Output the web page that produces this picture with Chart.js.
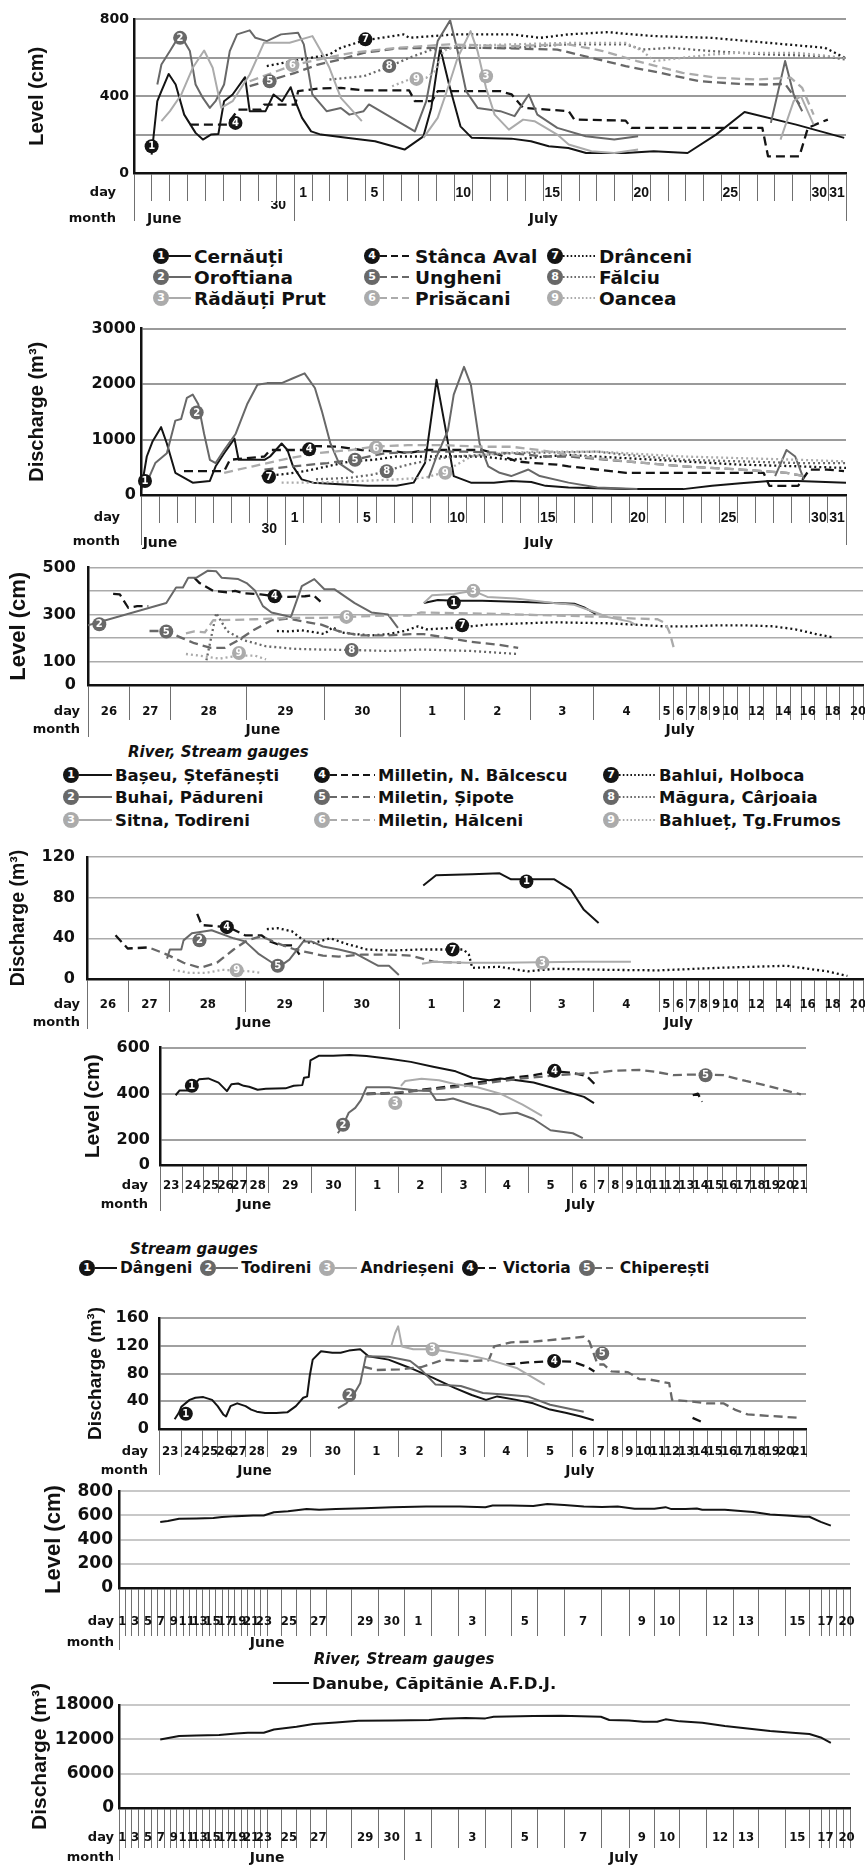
<!DOCTYPE html>
<html><head><meta charset="utf-8">
<script src="https://cdn.jsdelivr.net/npm/chart.js@4.4.1/dist/chart.umd.min.js"></script>
<style>
html,body{margin:0;padding:0;background:#fff;}
body{width:865px;height:1872px;position:relative;overflow:hidden;}
.lg{position:absolute;display:flex;align-items:center;white-space:nowrap;color:#111;font-weight:bold;}
.ttl{position:absolute;white-space:nowrap;color:#111;font-weight:bold;font-style:italic;}
</style></head><body>
<script>
// ======================= DATA =======================
const MONTHS = ['June','July'];
const ROW_TITLES = ['day','month'];
// Prut gauges (charts 1-2)
const PRUT_NAMES = ['Cernăuți','Oroftiana','Rădăuți Prut','Stânca Aval','Ungheni','Prisăcani','Drânceni','Fălciu','Oancea'];
// Chart 1: level (cm); t = days since 22 June 00:00
const PL_CERNAUTI=[[0.99,96],[1.31,374],[1.54,426],[1.95,516],[2.34,461],[2.82,304],[3.46,209],[3.87,174],[4.32,200],[4.74,203],[5.06,374],[5.54,409],[6.24,499],[6.5,322],[7.39,322],[7.84,409],[8.32,374],[8.8,447],[9.06,374],[9.44,287],[9.95,217],[10.5,200],[11.94,183],[13.54,165],[15.2,122],[16.26,191],[16.7,339],[17.2,652],[17.7,461],[18.34,243],[18.98,183],[21.2,179],[22.3,165],[23.3,139],[24.4,130],[25.4,104],[27.6,104],[29.2,113],[31.1,104],[32.7,200],[34.3,318],[37.2,252],[39.9,183]];
const PL_OROFTIANA=[[1.31,461],[1.54,565],[2.02,635],[2.59,722],[3.14,635],[3.46,461],[3.87,391],[4.26,339],[4.58,374],[5.06,461],[5.38,635],[5.79,722],[6.5,743],[6.82,704],[7.46,687],[8.26,722],[9.22,730],[9.54,670],[10.02,409],[10.82,322],[11.62,339],[12.1,304],[12.9,322],[13.2,357],[15.78,217],[16.42,374],[17.06,687],[17.76,795],[18.18,635],[18.66,426],[19.3,339],[20.58,322],[21.38,296],[22.18,409],[22.66,304],[23.78,235],[25.38,191],[26.98,174],[28.32,191],null,[35.78,261],[36.58,583],[37.06,409],[37.54,322]];
const PL_RADAUTI=[[1.54,270],[2.02,322],[2.66,409],[3.3,548],[3.94,638],[4.42,548],[4.9,339],[5.54,374],[6.5,513],[7.3,678],[7.78,678],[8.74,678],[10.02,713],[10.5,635],[10.98,548],[11.62,391],[12.8,270],null,[16.26,183],[17.06,287],[17.7,461],[18.18,600],[18.91,739],[19.3,635],[19.78,443],[20.26,304],[21.06,226],[21.86,278],[22.5,270],[23.78,200],[24.42,148],[25.7,113],[26.98,104],[28.32,122],null,[36.32,174],[37.06,374],[37.47,400],[38.18,252]];
const PL_STANCA=[[3.14,252],[5.22,252],[5.86,330],[7.14,330],[7.3,356],[9.06,356],[9.22,426],[10.34,440],[11.62,443],[12.9,430],[15.46,430],[15.78,374],[16.74,374],[17.06,426],[20.58,426],[21.22,409],[21.86,339],[24.42,322],[24.74,278],[27.62,273],[27.94,235],[35.3,235],[35.62,87],[37.38,87],[37.86,235],[38.5,261],[38.98,278]];
const PL_UNGHENI=[[6.5,452],[7.46,478],[9.06,522],[10.34,565],[11.62,591],[12.9,626],[14.82,649],[17.38,652],[19.62,652],[23.78,643],[25.7,600],[27.62,557],[29.54,522],[31.78,478],[34.0,464],[35.46,461],[36.58,464],[37.54,339]];
const PL_PRISACANI=[[6.5,478],[7.78,522],[8.9,560],[10.34,591],[12.26,626],[14.82,652],[17.7,670],[21.22,661],[24.42,670],[26.34,635],[28.26,583],[30.82,522],[32.74,496],[34.98,487],[36.9,496],[37.54,443],[38.18,304]];
const PL_DRANCENI=[[7.46,557],[9.38,591],[10.98,617],[11.62,652],[12.9,690],[15.14,722],[15.46,704],[18.02,722],[21.22,722],[22.82,704],[24.42,722],[26.66,734],[27.62,725],[29.22,713],[32.42,704],[35.62,678],[38.82,652],[39.94,600]];
const PL_FALCIU=[[10.98,487],[12.9,504],[14.18,548],[15.46,600],[16.74,643],[18.02,652],[21.22,652],[24.42,670],[27.62,670],[28.58,643],[30.18,652],[32.42,635],[35.62,617],[38.82,609],[39.94,591]];
const PL_OANCEA=[[14.5,452],[15.46,487],[15.9,490],[16.42,496],[16.9,530],[17.38,635],[18.02,661],[21.22,670],[24.42,678],[27.62,678],[28.58,635],[29.22,583],[30.82,600],[32.42,617],[34.02,626],[37.22,626],[39.94,600]];
const PL_MARKS=[[1,0.99,139],[2,2.59,704],[3,19.78,504],[4,5.7,261],[5,7.62,478],[6,8.9,562],[7,13.0,696],[8,14.34,557],[9,15.87,490]];
// Chart 2: discharge; t = days since 23 June 00:00
const PQ_CERNAUTI=[[0,76],[0.32,694],[0.63,958],[1.11,1223],[1.43,929],[1.9,400],[2.86,223],[3.81,253],[4.13,517],[4.6,753],[5.17,1017],[5.4,635],[6.83,635],[7.14,694],[7.78,929],[8.1,811],[8.41,517],[8.89,282],[9.52,223],[10.95,194],[12.54,165],[14.13,165],[15.08,223],[15.71,576],[16.35,2076],[16.83,1223],[17.3,341],[18.25,223],[19.52,223],[20.48,253],[21.59,235],[22.38,165],[23.65,135],[26.83,106],[30.0,106],[31.59,165],[33.17,212],[34.76,253],[36.35,253],[39.0,223]];
const PQ_OROFTIANA=[[0.32,223],[0.79,576],[1.43,753],[1.9,1341],[2.22,1370],[2.54,1752],[2.86,1811],[3.17,1635],[3.49,1105],[3.81,635],[4.13,576],[4.6,811],[5.24,1105],[5.87,1635],[6.44,1988],[6.98,2017],[7.78,2017],[8.41,2105],[9.05,2193],[9.62,1929],[10.0,1517],[10.48,929],[10.95,576],[11.75,400],null,[15.9,300],[16.35,694],[16.98,1164],[17.3,1811],[17.87,2311],[18.25,1987],[18.73,929],[19.21,517],[19.84,400],[20.48,341],[21.43,459],[22.06,341],[23.65,223],[25.24,135],[27.46,106],null,[35.08,341],[35.71,811],[36.19,694],[36.67,282]];
const PQ_STANCA=[[2.38,429],[4.6,429],[4.92,635],[6.83,694],[7.14,811],[9.21,811],[9.68,882],[10.95,870],[12.22,811],[14.13,782],[14.76,753],[15.71,811],[18.89,811],[19.84,723],[20.79,606],[21.75,576],[23.02,547],[23.65,517],[26.83,400],[34.44,400],[34.76,165],[36.35,165],[36.98,459],[37.94,459],[38.89,429]];
const PQ_UNGHENI=[[6.83,459],[8.41,517],[10.32,576],[11.75,635],[13.49,753],[15.71,782],[17.94,782],[20.48,753],[22.38,694],[23.65,694],[26.83,606],[30.0,517],[33.17,459],[35.71,400],[36.67,341]];
const PQ_PRISACANI=[[4.6,400],[6.19,517],[7.78,635],[9.68,753],[11.59,811],[12.86,870],[14.76,900],[16.67,900],[18.89,870],[20.48,870],[22.06,811],[23.65,723],[25.24,664],[26.83,606],[30.0,517],[33.17,459],[35.71,400],[36.67,341]];
const PQ_DRANCENI=[[6.67,341],[7.78,370],[9.05,429],[10.32,517],[11.59,606],[12.86,635],[14.13,694],[16.03,694],[18.89,694],[20.48,635],[22.38,694],[23.65,723],[26.83,664],[30.0,606],[33.17,547],[36.35,517],[39.0,488]];
const PQ_FALCIU=[[9.68,282],[11.59,312],[12.86,370],[13.81,459],[14.76,547],[16.03,635],[17.3,694],[20.48,753],[25.24,782],[26.83,723],[30.0,635],[33.17,606],[36.35,576],[39.0,576]];
const PQ_OANCEA=[[7.78,223],[9.68,223],[12.22,253],[14.13,282],[15.71,312],[16.67,400],[17.3,517],[18.25,694],[19.84,753],[22.06,782],[25.24,782],[26.83,753],[30.0,694],[33.17,664],[36.35,635],[39.0,606]];
const PQ_MARKS=[[1,0.22,253],[2,3.08,1488],[4,9.3,823],[5,11.84,635],[6,13.0,858],[7,7.08,329],[8,13.59,429],[9,16.83,400]];

// Small rivers (charts 3-4); t = day slot index from 26 June
const RIV_NAMES=['Bașeu, Ștefănești','Buhai, Pădureni','Sitna, Todireni','Milletin, N. Bălcescu','Miletin, Șipote','Miletin, Hălceni','Bahlui, Holboca','Măgura, Cârjoaia','Bahlueț, Tg.Frumos'];
const RL_BASEU=[[5.37,349],[5.59,362],[5.84,359],[6.27,359],[6.77,355],[7.36,349],[7.69,346],[7.86,329],[8.03,303]];
const RL_BUHAI=[[0,254],[1.89,349],[2.07,415],[2.16,415],[2.23,457],[2.34,457],[2.49,487],[2.6,484],[2.67,457],[2.89,451],[3.0,434],[3.11,401],[3.21,336],[3.32,309],[3.57,290],[3.71,421],[3.87,451],[4.0,408],[4.13,408],[4.4,349],[4.62,309],[4.84,300],[4.97,243]];
const RL_SITNA=[[5.37,349],[5.5,382],[5.84,388],[6.14,401],[6.35,375],[6.77,368],[7.36,349],[7.69,342],[8.03,309],[8.21,290],[8.55,270],[8.63,257]];
const RL_BALCESCU=[[0.6,388],[0.76,386],[0.96,329],[1.18,336],[1.45,336],null,[2.31,457],[2.38,434],[2.56,401],[2.74,395],[2.85,401],[2.96,391],[3.18,386],[3.36,378],[3.54,375],[3.75,378],[3.86,382],[3.95,355]];
const RL_SIPOTE=[[1.48,230],[1.89,230],[2.12,204],[2.31,178],[2.53,158],[2.71,158],[2.89,191],[3.07,230],[3.32,276],[3.54,283],[3.79,267],[3.96,257],[4.18,230],[4.47,211],[4.84,211],[5.16,217],[5.37,217],[5.67,204],[6.1,184],[6.52,171],[6.81,158]];
const RL_HALCENI=[[2.2,220],[2.31,228],[2.45,224],[2.56,276],[2.67,276],[3.11,280],[3.61,286],[3.96,286],[4.29,290],[4.84,296],[5.16,296],[5.33,309],[5.67,307],[6.52,303],[7.36,296],[8.21,290],[8.63,283],[8.97,280],[9.42,263],[9.72,224],[10.06,151]];
const RL_HOLBOCA=[[3.39,230],[3.54,228],[3.71,233],[3.89,224],[4.0,217],[4.11,246],[4.22,224],[4.4,217],[4.62,211],[4.84,217],[5.07,230],[5.28,250],[5.41,237],[5.67,241],[5.97,246],[6.35,257],[6.93,263],[7.36,267],[8.21,263],[8.63,257],[9.3,250],[11.42,250],[13.53,254],[15.65,254],[17.77,250],[19.47,237],[21.16,217],[22.43,204]];
const RL_CARJOAIA=[[2.47,105],[2.6,307],[2.74,230],[2.96,191],[3.25,165],[3.61,154],[3.96,151],[4.36,149],[4.84,145],[5.33,151],[6.1,145],[6.81,132]];
const RL_TGFRUMOS=[[2.2,132],[2.45,122],[2.64,112],[2.89,125],[3.11,125],[3.25,109]];
const RL_MARKS=[[1,5.84,351],[2,0.27,259],[3,6.14,401],[4,3.36,378],[5,1.89,228],[6,4.29,290],[7,5.97,254],[8,4.36,149],[9,2.9,136]];
const RQ_BASEU=[[5.37,92],[5.57,102],[6.13,103],[6.54,104],[6.71,98],[7.38,98],[7.64,88],[7.85,68],[8.08,55]];
const RQ_BUHAI=[[1.93,20],[2.0,29],[2.15,29],[2.18,38],[2.29,45],[2.55,48],[2.84,40],[2.99,37],[3.16,25],[3.34,16],[3.41,11],[3.56,19],[3.74,37],[3.84,37],[3.99,32],[4.2,29],[4.42,25],[4.72,13],[4.86,13],[4.99,4]];
const RQ_SITNA=[[5.35,15],[5.53,17],[6.04,16],[6.54,16],[7.8,17],[8.57,17]];
const RQ_BALCESCU=[[0.68,43],[0.97,30],[1.45,31],null,[2.36,64],[2.42,53],[2.77,51],[2.99,43],[3.2,43],[3.31,37],[3.45,33],[3.61,33],[3.69,24]];
const RQ_SIPOTE=[[1.55,30],[1.93,24],[2.18,16],[2.4,11],[2.62,16],[2.84,29],[3.02,38],[3.2,42],[3.41,35],[3.63,29],[3.99,23],[4.2,22],[4.5,24],[4.86,24],[5.18,23],[5.53,17],[5.96,16]];
const RQ_HOLBOCA=[[3.27,49],[3.41,50],[3.59,47],[3.74,38],[3.84,35],[3.99,38],[4.09,40],[4.28,35],[4.57,29],[4.86,28],[5.35,29],[5.78,29],[6.0,29],[6.08,24],[6.13,11],[6.54,12],[6.96,7.5],[7.38,10],[8.23,9],[9.0,8.5],[13.66,11],[18.75,13],[20.0,11],[22.1,7.5],[23.6,3]];
const RQ_TGFRUMOS=[[2.04,9],[2.26,6],[2.47,6],[2.69,9],[3.06,7.5],[3.2,6]];
const RQ_MARKS=[[1,6.94,96],[2,2.39,38],[3,7.19,16],[4,2.75,51],[5,3.41,13],[7,5.83,29],[9,2.88,8.5]];

// Stream gauges (charts 5-6); t = day slot index from 23 June
const STR_NAMES=['Dângeni','Todireni','Andrieșeni','Victoria','Chiperești'];
const SL_DANGENI=[[0.7,393],[0.88,414],[1.26,414],[1.79,462],[2.32,466],[3.0,448],[3.6,411],[3.92,441],[4.4,444],[4.8,434],[5.12,430],[5.5,417],[5.87,421],[6.39,423],[6.58,434],[6.78,437],[6.82,469],[6.93,472],[6.97,545],[7.17,565],[7.49,565],[7.87,568],[8.26,563],[8.78,552],[9.28,538],[9.8,517],[10.32,497],[10.7,469],[11.09,458],[11.35,466],[11.74,458],[12.12,448],[12.5,428],[12.87,407],[13.53,386],[14.0,359]];
const SL_TODIRENI=[[7.6,228],[7.72,262],[7.85,317],[8.0,338],[8.13,372],[8.26,428],[8.78,428],[9.41,414],[9.73,411],[9.87,372],[10.06,372],[10.26,379],[10.7,352],[11.09,331],[11.35,310],[11.74,317],[12.12,290],[12.5,241],[12.75,234],[13.0,228],[13.47,207]];
const SL_ANDRIESENI=[[9.05,434],[9.15,455],[9.53,465],[9.94,458],[10.32,441],[10.82,428],[11.35,400],[11.87,352],[12.31,303]];
const SL_VICTORIA=[[8.26,400],[9.03,403],[9.53,417],[10.32,434],[10.96,452],[11.6,469],[12.13,480],[12.56,497],[13.0,490],[13.66,476],[14.05,441],null,[20.94,393],[21.3,400],[21.6,365]];
const SL_CHIPERESTI=[[8.26,397],[8.78,403],[9.53,414],[10.32,428],[11.09,448],[11.87,466],[12.63,480],[13.26,486],[14.0,490],[15.25,499],[17.2,503],[18.4,494],[19.57,480],[20.75,483],[21.84,483],[23.1,480],[24.67,455],[26.2,434],[28.6,397]];
const SL_MARKS=[[1,1.45,434],[2,7.72,265],[3,8.92,359],[4,12.59,499],[5,21.84,480]];
const SQ_DANGENI=[[0.7,14],[0.88,23],[1.0,32],[1.39,42],[1.66,45],[2.05,46],[2.63,42],[3.0,33],[3.4,21],[3.6,18],[3.92,33],[4.4,37],[5.0,33],[5.25,28],[5.5,25],[5.87,23],[6.19,23],[6.45,24],[6.65,33],[6.82,45],[6.91,47],[6.97,76],[7.04,100],[7.23,112],[7.49,110],[7.68,110],[7.87,113],[8.13,115],[8.32,105],[8.78,100],[9.28,88],[9.8,74],[10.32,59],[10.7,49],[11.03,42],[11.29,47],[11.74,42],[12.12,37],[12.5,28],[12.87,23],[13.4,18],[14.0,12.5]];
const SQ_TODIRENI=[[7.62,30],[7.81,37],[8.0,52],[8.13,66],[8.26,105],[8.78,104],[9.28,98],[9.53,86],[9.87,64],[10.45,62],[10.96,52],[11.61,49],[12.0,47],[12.5,35],[13.53,25]];
const SQ_ANDRIESENI=[[8.84,119],[8.93,138],[9.0,148],[9.09,119],[9.35,115],[9.8,115],[10.58,107],[11.09,100],[11.74,88],[12.38,64]];
const SQ_VICTORIA=[[11.5,93],[12.0,96],[12.56,98],[13.0,97],[13.66,90],[14.05,83],null,[20.94,16],[21.6,10]];
const SQ_CHIPERESTI=[[8.2,90],[8.5,85],[9.03,86],[9.53,89],[10.06,100],[10.58,98],[11.09,99],[11.22,119],[11.61,125],[12.12,126],[12.63,129],[13.53,133],[13.8,126],[14.27,93],[14.7,93],[15.25,83],[16.4,82],[17.2,72],[18.0,71],[19.3,66],[19.5,42],[20.75,40],[21.9,37],[23.1,37],[23.9,28],[24.8,21],[26.2,19],[28.6,16]];
const SQ_MARKS=[[1,1.21,22],[2,7.88,49],[3,9.8,115],[4,12.59,98],[5,14.6,109]];

// Danube (charts 7-8); t = day slot index from 1 June
const DANUBE_NAME='Danube, Căpitănie A.F.D.J.';
const DL_DANUBE=[[6.4,546],[7.58,554],[9.33,573],[12.0,575],[14.64,578],[16.0,586],[18.2,594],[20.83,599],[22.47,599],[23.48,626],[24.44,634],[25.0,642],[25.72,652],[26.54,647],[27.38,652],[28.46,660],[29.52,668],[30.79,673],[32.04,673],[32.98,668],[33.26,681],[33.96,681],[34.83,678],[35.36,694],[36.0,686],[36.52,673],[37.0,670],[37.58,673],[38.22,655],[39.0,655],[39.44,668],[39.67,652],[40.21,652],[40.63,657],[40.83,647],[41.68,647],[42.78,628],[43.43,607],[44.07,599],[44.77,589],[45.0,589],[45.91,546],[47.23,515]];
const DQ_DANUBE=[[6.4,11980],[9.33,12565],[12.0,12680],[15.55,12740],[18.2,13030],[20.0,13150],[22.47,13150],[23.48,13730],[25.0,14200],[26.18,14670],[27.38,14960],[28.25,15250],[29.52,15310],[30.9,15370],[31.42,15600],[32.25,15720],[32.98,15660],[33.3,15950],[34.83,16070],[35.89,16130],[36.97,15950],[37.27,15370],[38.0,15310],[38.56,15080],[39.11,15080],[39.44,15490],[40.0,15140],[40.83,14900],[41.68,14320],[42.56,13910],[43.43,13440],[44.3,13150],[45.0,12920],[45.91,12330],[47.23,11400]];

// Axis day numbers per slot and which are labelled
const range=(a,b)=>{const r=[];for(let i=a;i<=b;i++)r.push(i);return r;};
const AX_PRUT1_DAYS=[...range(22,30),...range(1,31)];
const AX_PRUT2_DAYS=[...range(23,30),...range(1,31)];
const AX_PRUT_SHOWN=[1,5,10,15,20,25,30,31];
const AX_PRUT_LOW='30';
const AX_RIV_DAYS=[...range(26,30),...range(1,20)];
const AX_RIV_HIDE=[11,13,15,17,19];
const AX_STR_DAYS=[...range(23,30),...range(1,21)];
const AX_DAN_DAYS=[...range(1,30),...range(1,20)];
const AX_DAN_SHOWN_JUNE=[1,3,5,7,9,11,13,15,17,19,21,23,25,27,29,30];
const AX_DAN_SHOWN_JULY=[1,3,5,7,9,10,12,13,15,17,20];
const Y1=[[0,'0'],[200,''],[400,'400'],[600,''],[800,'800']];
const Y2=[[0,'0'],[1000,'1000'],[2000,'2000'],[3000,'3000']];
const Y3=[[0,'0'],[100,'100'],[200,''],[300,'300'],[400,''],[500,'500']];
const Y4=[[0,'0'],[40,'40'],[80,'80'],[120,'120']];
const Y5=[[90,'0'],[200,'200'],[400,'400'],[600,'600']];
const Y6=[[0,'0'],[40,'40'],[80,'80'],[120,'120'],[160,'160']];
const Y7=[[0,'0'],[200,'200'],[400,'400'],[600,'600'],[800,'800']];
const Y8=[[0,'0'],[6000,'6000'],[12000,'12000'],[18000,'18000']];

// ======================= STYLE / LAYOUT =======================
const FT="'Liberation Sans', Arial, sans-serif";
const FN="'Liberation Sans Narrow', 'Arial Narrow', 'DejaVu Sans Condensed', sans-serif";
const FD="'DejaVu Sans', sans-serif";
const COL={K:'#141414',D:'#686868',L:'#ababab'};
const DASH={s:[],d:[9,5],o:[2,3]};
const STY9=[['K','s'],['D','s'],['L','s'],['K','d'],['D','d'],['L','d'],['K','o'],['D','o'],['L','o']];
const STY5=[['K','s'],['D','s'],['L','s'],['K','d'],['D','d']];
const DRAW9=[8,5,2,7,4,1,6,3,0];
const W_P1=AX_PRUT1_DAYS.map(()=>1), W_P2=AX_PRUT2_DAYS.map(()=>1);
const W_RIV=[42,41,76,78,76,64,67,63,66,14,13,12,11,14,14,12,14,13,14,11,13,12,13,14,10];
const W_STR=[40,38,27,25,25,40,77,78,78,77,78,77,80,38,...range(1,14).map(()=>25.5),23];
const W_DAN=[...range(1,23).map(()=>11.43),25,27,25,28,45,48,46,48,48,48,46,46,47,67,48,45,45,48,47,45,47,43,22,13,13,12,12];

const lblPrut=(days,june)=>days.map((d,i)=>i<june?'':(AX_PRUT_SHOWN.includes(d)?String(d):''));
const lblRiv=AX_RIV_DAYS.map((d,i)=>(i>=5&&AX_RIV_HIDE.includes(d))?'':String(d));
const lblStr=AX_STR_DAYS.map(d=>String(d));
const lblDan=AX_DAN_DAYS.map((d,i)=>i<30?(AX_DAN_SHOWN_JUNE.includes(d)?String(d):''):(AX_DAN_SHOWN_JULY.includes(d)?String(d):''));

function axisMap(w){const B=[0];w.forEach(x=>B.push(B[B.length-1]+x));
  return {B,W:w,total:B[B.length-1],pos(t){let i=Math.floor(t);if(i<0)i=0;if(i>=w.length)i=w.length-1;return B[i]+(t-i)*w[i];}};}
function ser(data,sty,idx){return {data,col:sty[idx][0],dash:sty[idx][1],num:idx+1};}

const CHARTS=[
 {yTop:18,yBot:173,left:134,right:846,padTop:12,dayH:28,dayY:193,monH:28,monTick:20,monY:219,lowY:205,low:{t:8.1,text:AX_PRUT_LOW},rowRight:116,
  yMax:800,yTicks:Y1,yFont:14,yPad:5,title:'Level (cm)',titleSize:20,titleX:37,grid:'#9a9a9a',gridW:2,
  weights:W_P1,labels:lblPrut(AX_PRUT1_DAYS,9),dayFont:{family:FT,size:14},monthLines:[0,9,40],monthPos:[1.7,23.0],monthNames:[0,1],
  series:DRAW9.map(i=>ser([PL_CERNAUTI,PL_OROFTIANA,PL_RADAUTI,PL_STANCA,PL_UNGHENI,PL_PRISACANI,PL_DRANCENI,PL_FALCIU,PL_OANCEA][i],STY9,i)),marks:PL_MARKS,sty:STY9},
 {yTop:326,yBot:495,left:141,right:846,padTop:12,dayH:28,dayY:518,monH:26,monTick:22,monY:542,lowY:529,low:{t:7.1,text:AX_PRUT_LOW},rowRight:120,
  yMax:3000,yTicks:Y2,yFont:16,yPad:5,title:'Discharge (m³)',titleSize:20,titleX:37,grid:'#9a9a9a',gridW:2,
  weights:W_P2,labels:lblPrut(AX_PRUT2_DAYS,8),dayFont:{family:FT,size:14},monthLines:[0,8,39],monthPos:[1.05,22.0],monthNames:[0,1],
  series:DRAW9.filter(i=>i!==2).map(i=>ser([PQ_CERNAUTI,PQ_OROFTIANA,null,PQ_STANCA,PQ_UNGHENI,PQ_PRISACANI,PQ_DRANCENI,PQ_FALCIU,PQ_OANCEA][i],STY9,i)),marks:PQ_MARKS,sty:STY9},
 {yTop:558,yBot:685,left:88,right:863,padTop:12,dayH:35,dayY:712,monH:22,monTick:17,monY:730,rowRight:80,
  yMax:500,yTicks:Y3,yFont:16,yPad:12,title:'Level (cm)',titleSize:22,titleX:19,grid:'#ababab',gridW:1.5,
  weights:W_RIV,labels:lblRiv,dayFont:{family:FN,size:13},monthLines:[0,5],monthPos:[3.21,10.5],monthNames:[0,1],
  series:DRAW9.map(i=>ser([RL_BASEU,RL_BUHAI,RL_SITNA,RL_BALCESCU,RL_SIPOTE,RL_HALCENI,RL_HOLBOCA,RL_CARJOAIA,RL_TGFRUMOS][i],STY9,i)),marks:RL_MARKS,sty:STY9},
 {yTop:857,yBot:979,left:87,right:863,padTop:22,dayH:33,dayY:1005,monH:22,monTick:17,monY:1023,rowRight:80,
  yMax:120,yTicks:Y4,yFont:16,yPad:12,title:'Discharge (m³)',titleSize:19.5,titleX:19,grid:'#ababab',gridW:1.5,
  weights:W_RIV,labels:lblRiv,dayFont:{family:FN,size:13},monthLines:[0,5],monthPos:[3.1,10.4],monthNames:[0,1],
  series:[8,2,7,4,1,6,3,0].filter(i=>i!==5&&i!==7).map(i=>ser([RQ_BASEU,RQ_BUHAI,RQ_SITNA,RQ_BALCESCU,RQ_SIPOTE,null,RQ_HOLBOCA,null,RQ_TGFRUMOS][i],STY9,i)),marks:RQ_MARKS,sty:STY9},
 {yTop:1040,yBot:1165,left:160,right:806,padTop:12,dayH:28,dayY:1186,monH:22,monTick:18,monY:1205,rowRight:148,
  yMin:90,yMax:600,yTicks:Y5,yFont:16,yPad:10,title:'Level (cm)',titleSize:21,titleX:93,grid:'#a0a0a0',gridW:2,
  weights:W_STR,labels:lblStr,dayFont:{family:FN,size:13},monthLines:[0,8],monthPos:[5.33,13.35],monthNames:[0,1],
  series:[2,1,4,3,0].map(i=>ser([SL_DANGENI,SL_TODIRENI,SL_ANDRIESENI,SL_VICTORIA,SL_CHIPERESTI][i],STY5,i)),marks:SL_MARKS,sty:STY5},
 {yTop:1318,yBot:1429,left:159,right:806,padTop:24,dayH:28,dayY:1452,monH:22,monTick:18,monY:1471,rowRight:148,
  yMax:160,yTicks:Y6,yFont:16,yPad:10,title:'Discharge (m³)',titleSize:19,titleX:96,grid:'#a0a0a0',gridW:2,
  weights:W_STR,labels:lblStr,dayFont:{family:FN,size:13},monthLines:[0,8],monthPos:[5.4,13.35],monthNames:[0,1],
  series:[2,1,4,3,0].map(i=>ser([SQ_DANGENI,SQ_TODIRENI,SQ_ANDRIESENI,SQ_VICTORIA,SQ_CHIPERESTI][i],STY5,i)),marks:SQ_MARKS,sty:STY5},
 {yTop:1487,yBot:1588,left:119,right:850,padTop:12,dayH:48,dayY:1622,monH:20,monTick:14,monY:1643,rowRight:114,
  yMax:800,yTicks:Y7,yFont:17,yPad:6,title:'Level (cm)',titleSize:22,titleX:54,grid:'#c8c8c8',gridW:2,
  weights:W_DAN,labels:lblDan,dayFont:{family:FN,size:13},monthLines:[0],monthPos:[23.0],monthNames:[0],
  series:[ser(DL_DANUBE,[['K','s']],0)],marks:[],sty:[['K','s']]},
 {yTop:1705,yBot:1808,left:119,right:850,padTop:30,dayH:40,dayY:1838,monH:24,monTick:12,monY:1858,rowRight:114,
  yMax:18000,yTicks:Y8,yFont:17,yPad:5,title:'Discharge (m³)',titleSize:21,titleX:40,grid:'#c8c8c8',gridW:2,
  weights:W_DAN,labels:lblDan,dayFont:{family:FN,size:13},monthLines:[0,30],monthPos:[23.0,37.8],monthNames:[0,1],
  series:[ser(DQ_DANUBE,[['K','s']],0)],marks:[],sty:[['K','s']]}
];

// ======================= BUILD =======================
function toPts(arr,ax){const out=[];let last=0;arr.forEach(p=>{if(p===null){out.push({x:ax.pos(last)+0.001,y:null});}else{last=p[0];out.push({x:ax.pos(p[0]),y:p[1]});}});return out;}

function build(c){
  const ax=axisMap(c.weights);
  const yMin=c.yMin||0;
  const top=c.yTop-c.padTop;
  const H=c.padTop+(c.yBot-c.yTop)+c.dayH+c.monH;
  const cv=document.createElement('canvas');
  cv.width=865;cv.height=H;
  cv.style.cssText=`position:absolute;left:0;top:${top}px;width:865px;height:${H}px;`;
  document.body.appendChild(cv);
  const dayFS=c.dayFont.size, monFS=14;
  const xt=[{value:0,line:true,text:''}];
  c.labels.forEach((l,i)=>{if(l!=='')xt.push({value:ax.B[i]+ax.W[i]/2,line:false,text:l});});
  for(let i=1;i<ax.B.length;i++)xt.push({value:ax.B[i],line:true,text:''});
  const mt=[{value:0,line:c.monthLines.includes(0),text:''}];
  c.monthPos.forEach((t,k)=>mt.push({value:ax.pos(t),line:false,text:c.low?['',MONTHS[c.monthNames[k]]]:MONTHS[c.monthNames[k]]}));
  if(c.low)mt.push({value:ax.pos(c.low.t),line:false,low:true,text:c.low.text});
  c.monthLines.filter(i=>i>0).forEach(i=>mt.push({value:ax.B[i],line:true,text:''}));
  const nW=c.weights.length;
  if(!c.monthLines.includes(nW))mt.push({value:ax.total,line:false,text:''});
  const firstMonY=c.low?c.lowY:c.monY;
  const yW=c.left-(c.titleX-c.titleSize/2);
  const datasets=c.series.map(s=>({
    data:toPts(s.data,ax),borderColor:COL[s.col],borderWidth:s.dash==='s'?2:2.3,borderDash:DASH[s.dash],
    pointRadius:0,pointHoverRadius:0,fill:false,spanGaps:false,tension:0,xAxisID:'x',yAxisID:'y',borderJoinStyle:'round'
  }));
  const extras={id:'extras',afterDraw(chart){
    const ctx=chart.ctx;ctx.save();
    ctx.font=`bold 13px ${FD}`;ctx.fillStyle='#111';ctx.textAlign='right';ctx.textBaseline='middle';
    ctx.fillText(ROW_TITLES[0],c.rowRight,c.dayY-top);
    ctx.fillText(ROW_TITLES[1],c.rowRight,c.monY-top);
    const xs=chart.scales.x,ys=chart.scales.y;
    c.marks.forEach(m=>{
      const px=xs.getPixelForValue(ax.pos(m[1])),py=ys.getPixelForValue(m[2]);
      ctx.beginPath();ctx.arc(px,py,7,0,Math.PI*2);ctx.fillStyle=COL[c.sty[m[0]-1][0]];ctx.fill();
      ctx.fillStyle='#fff';ctx.font=`bold 10px ${FD}`;ctx.textAlign='center';ctx.textBaseline='middle';
      ctx.fillText(String(m[0]),px,py+0.5);
    });
    ctx.restore();
  }};
  new Chart(cv,{type:'line',data:{datasets},plugins:[extras],options:{
    responsive:false,animation:false,devicePixelRatio:1,events:[],
    layout:{padding:{top:c.padTop,left:c.titleX-c.titleSize/2,right:865-c.right,bottom:0}},
    plugins:{legend:{display:false},tooltip:{enabled:false}},
    scales:{
      x:{type:'linear',position:'bottom',weight:1,min:0,max:ax.total,
        afterBuildTicks:s=>{s.ticks=xt.map(o=>({value:o.value,line:o.line,text:o.text}));},
        afterFit:s=>{s.height=c.dayH;},
        ticks:{autoSkip:false,maxRotation:0,minRotation:0,color:'#111',align:'center',
          padding:c.dayY-(c.yBot+c.dayH+dayFS/2),font:{family:c.dayFont.family,size:dayFS,weight:'bold',lineHeight:1},
          callback:(v,i,t)=>t[i].text},
        grid:{drawOnChartArea:false,drawTicks:true,tickLength:c.dayH,
          tickColor:ctx=>(ctx.tick&&ctx.tick.line)?'#707070':'rgba(0,0,0,0)',tickWidth:1},
        border:{display:true,color:'#111',width:2.5}},
      xm:{type:'linear',axis:'x',position:'bottom',weight:2,min:0,max:ax.total,
        afterBuildTicks:s=>{s.ticks=mt.map(o=>({value:o.value,line:o.line,low:!!o.low,text:o.text}));},
        afterFit:s=>{s.height=c.monH;},
        ticks:{autoSkip:false,maxRotation:0,minRotation:0,color:'#111',align:'center',
          padding:firstMonY-(c.yBot+c.dayH+c.monTick+monFS/2),
          font:ctx=>(ctx.tick&&ctx.tick.low)?{family:c.dayFont.family,size:14,weight:'bold',lineHeight:1}:{family:FD,size:monFS,weight:'bold',lineHeight:1},
          callback:(v,i,t)=>t[i].text},
        grid:{drawOnChartArea:false,drawTicks:true,tickLength:c.monTick,
          tickColor:ctx=>(ctx.tick&&ctx.tick.line)?'#707070':'rgba(0,0,0,0)',tickWidth:1},
        border:{display:false}},
      y:{type:'linear',position:'left',min:yMin,max:c.yMax,
        afterBuildTicks:s=>{s.ticks=c.yTicks.map(o=>({value:o[0],text:o[1]}));},
        afterFit:s=>{s.width=yW;},
        ticks:{color:'#111',padding:c.yPad,font:{family:FD,size:c.yFont,weight:'bold'},callback:(v,i,t)=>t[i].text},
        grid:{drawTicks:false,color:ctx=>(ctx.tick&&ctx.tick.value===yMin)?'rgba(0,0,0,0)':c.grid,lineWidth:c.gridW},
        border:{display:true,color:'#111',width:2.5},
        title:{display:true,text:c.title,color:'#111',padding:0,font:{family:FT,size:c.titleSize,weight:'bold',lineHeight:1}}}
    }
  }});
}
CHARTS.forEach(build);

// ======================= LEGENDS (HTML text) =======================
const LDASH={s:'',d:'7 4',o:'1.6 2.2'};
function svgLine(w,col,dash){const ns='http://www.w3.org/2000/svg';const s=document.createElementNS(ns,'svg');
  s.setAttribute('width',w);s.setAttribute('height',6);s.style.flex='none';
  const l=document.createElementNS(ns,'line');l.setAttribute('x1',0);l.setAttribute('x2',w);l.setAttribute('y1',3);l.setAttribute('y2',3);
  l.setAttribute('stroke',col);l.setAttribute('stroke-width',2);if(dash)l.setAttribute('stroke-dasharray',dash);s.appendChild(l);return s;}
function badgeEl(n,col,d){const b=document.createElement('span');b.textContent=n;
  b.style.cssText=`display:inline-block;flex:none;width:${d}px;height:${d}px;border-radius:50%;background:${col};color:#fff;font:bold ${Math.round(d*0.7)}px ${FD};line-height:${d}px;text-align:center;`;return b;}
function textEl(t,fs,ml){const s=document.createElement('span');s.textContent=t;s.style.cssText=`font:bold ${fs}px ${FD};margin-left:${ml}px;`;return s;}
function item(x,y,num,sty,lineW,text,fs,d){const div=document.createElement('div');div.className='lg';
  div.style.left=x+'px';div.style.top=(y-12)+'px';div.style.height='24px';
  if(num)div.appendChild(badgeEl(num,COL[sty[0]],d));
  div.appendChild(svgLine(lineW,COL[sty[0]],LDASH[sty[1]]));
  div.appendChild(textEl(text,fs,3));document.body.appendChild(div);return div;}
function title(x,y,t,center){const d=document.createElement('div');d.className='ttl';d.textContent=t;
  d.style.cssText+=`font:italic bold 15px ${FD};top:${y-10}px;`+(center?`left:${x}px;transform:translateX(-50%);`:`left:${x}px;`);document.body.appendChild(d);}
// legend 1 (Prut)
const L1_BX=[161,372,555],L1_TX=[194,415,599],L1_Y=[256,277,298];
PRUT_NAMES.forEach((n,i)=>{const col=Math.floor(i/3),row=i%3;
  item(L1_BX[col]-8,L1_Y[row],i+1,STY9[i],L1_TX[col]-3-(L1_BX[col]+8),n,18.5,16);});
// legend 2 (rivers)
title(128,753,'River, Stream gauges');
const L2_BX=[71,322,611],L2_TX=[115,378,659],L2_Y=[775,797,820];
RIV_NAMES.forEach((n,i)=>{const col=Math.floor(i/3),row=i%3;
  item(L2_BX[col]-8,L2_Y[row],i+1,STY9[i],L2_TX[col]-3-(L2_BX[col]+8),n,16.5,16);});
// legend 3 (streams) - one flowing row
title(130,1250,'Stream gauges');
{const row=document.createElement('div');row.className='lg';row.style.left='79px';row.style.top=(1268-12)+'px';row.style.height='24px';
 STR_NAMES.forEach((n,i)=>{row.appendChild(badgeEl(i+1,COL[STY5[i][0]],16));row.appendChild(svgLine(22,COL[STY5[i][0]],LDASH[STY5[i][1]]));
   const t=textEl(n,15.5,3);t.style.marginRight='8px';row.appendChild(t);});
 document.body.appendChild(row);}
// legend 4 (Danube)
title(404,1660,'River, Stream gauges',true);
item(273,1683,null,['K','s'],36,DANUBE_NAME,16.5,16);
</script>
</body></html>
